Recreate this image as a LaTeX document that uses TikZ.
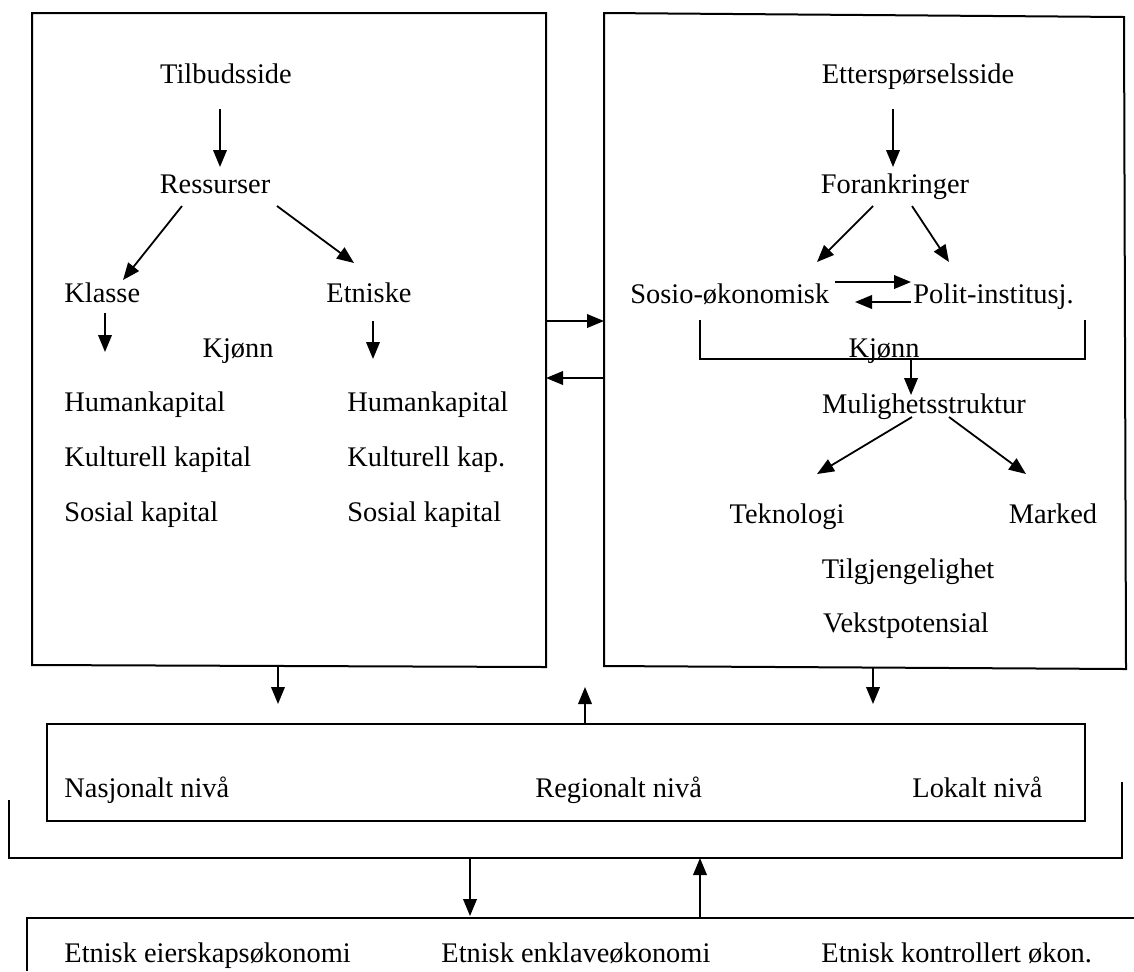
\documentclass[tikz,border=0pt]{standalone}
\usepackage{fontspec}
\setmainfont{Liberation Serif}
\usetikzlibrary{arrows.meta}
\begin{document}
\begin{tikzpicture}[x=0.5pt,y=-0.5pt,
 lbl/.style={anchor=base west,inner sep=0pt,font=\fontsize{14.2}{16}\selectfont},
 clbl/.style={anchor=base,inner sep=0pt,font=\fontsize{14.2}{16}\selectfont},
 frame/.style={line width=1pt},
 arr/.style={line width=0.9pt,-{Triangle[length=8.5pt,width=6.8pt]}},
]
\useasboundingbox (0,0) rectangle (1134,971);
% frames
\coordinate (L1) at (32,13); \coordinate (L2) at (546,13);
\coordinate (L3) at (546,667); \coordinate (L4) at (32,665);
\draw[frame] (L1) -- (L2) -- (L3) -- (L4) -- cycle;
\coordinate (R1) at (604,13); \coordinate (R2) at (1124,17);
\coordinate (R3) at (1126,669); \coordinate (R4) at (604,666);
\draw[frame] (R1) -- (R2) -- (R3) -- (R4) -- cycle;
\coordinate (M1) at (47,724); \coordinate (M2) at (1085,724);
\coordinate (M3) at (1085,821); \coordinate (M4) at (47,821);
\draw[frame] (M1) -- (M2) -- (M3) -- (M4) -- cycle;
\coordinate (B1) at (9,800); \coordinate (B2) at (9,858);
\coordinate (B3) at (1122,858); \coordinate (B4) at (1122,782);
\draw[frame] (B1) -- (B2) -- (B3) -- (B4);
\coordinate (E1) at (27,971); \coordinate (E2) at (27,918); \coordinate (E3) at (1134,918);
\draw[frame] (E1) -- (E2) -- (E3);
% left box texts
\node[clbl] (tilbud) at (226,83) {Tilbudsside};
\node[clbl] (ress) at (215,193) {Ressurser};
\node[lbl] (klasse) at (64,302) {Klasse};
\node[lbl] (etn) at (326,302) {Etniske};
\node[clbl] (kjL) at (238,357) {Kjønn};
\node[lbl] (hk1) at (64,411) {Humankapital};
\node[lbl] (kk1) at (64,466) {Kulturell kapital};
\node[lbl] (sk1) at (64,521) {Sosial kapital};
\node[lbl] (hk2) at (347,411) {Humankapital};
\node[lbl] (kk2) at (347,466) {Kulturell kap.};
\node[lbl] (sk2) at (347,521) {Sosial kapital};
% right box texts
\node[clbl] (ett) at (918,83) {Etterspørselsside};
\node[clbl] (for) at (895,193) {Forankringer};
\node[lbl] (sos) at (630,303) {Sosio-økonomisk};
\node[lbl] (pol) at (913,303) {Polit-institusj.};
\node[clbl] (kjR) at (884,357) {Kjønn};
\node[clbl] (mul) at (924,413) {Mulighetsstruktur};
\node[clbl] (tek) at (787,523) {Teknologi};
\node[clbl] (mar) at (1053,523) {Marked};
\node[clbl] (til) at (908,578) {Tilgjengelighet};
\node[clbl] (vek) at (906,632) {Vekstpotensial};
% middle and bottom texts
\node[lbl] (nas) at (64,797) {Nasjonalt nivå};
\node[lbl] (reg) at (535,797) {Regionalt nivå};
\node[lbl] (lok) at (912,797) {Lokalt nivå};
\node[lbl] (eie) at (64,962) {Etnisk eierskapsøkonomi};
\node[lbl] (enk) at (441,962) {Etnisk enklaveøkonomi};
\node[lbl] (kon) at (821,962) {Etnisk kontrollert økon.};
% bracket in right box
\coordinate (K1) at (700,320); \coordinate (K2) at (700,359);
\coordinate (K3) at (1085,359); \coordinate (K4) at (1085,320);
\draw[frame] (K1) -- (K2) -- (K3) -- (K4);
% arrows left box
\coordinate (a1s) at (220,109); \coordinate (a1e) at (220,167);
\draw[arr] (a1s) -- (a1e);
\coordinate (a2s) at (182,206); \coordinate (a2e) at (123,280);
\draw[arr] (a2s) -- (a2e);
\coordinate (a3s) at (277,206); \coordinate (a3e) at (354,263);
\draw[arr] (a3s) -- (a3e);
\coordinate (a4s) at (105,313); \coordinate (a4e) at (105,352);
\draw[arr] (a4s) -- (a4e);
\coordinate (a5s) at (373,321); \coordinate (a5e) at (373,359);
\draw[arr] (a5s) -- (a5e);
% arrows right box
\coordinate (b1s) at (893,109); \coordinate (b1e) at (893,167);
\draw[arr] (b1s) -- (b1e);
\coordinate (b2s) at (873,206); \coordinate (b2e) at (817,262);
\draw[arr] (b2s) -- (b2e);
\coordinate (b3s) at (912,206); \coordinate (b3e) at (949,262);
\draw[arr] (b3s) -- (b3e);
\coordinate (b4s) at (835,282); \coordinate (b4e) at (911,282);
\draw[arr] (b4s) -- (b4e);
\coordinate (b5s) at (911,302); \coordinate (b5e) at (855,302);
\draw[arr] (b5s) -- (b5e);
\coordinate (b6s) at (911,359); \coordinate (b6e) at (911,395);
\draw[arr] (b6s) -- (b6e);
\coordinate (b7s) at (912,417); \coordinate (b7e) at (817,474);
\draw[arr] (b7s) -- (b7e);
\coordinate (b8s) at (949,417); \coordinate (b8e) at (1026,474);
\draw[arr] (b8s) -- (b8e);
% arrows between boxes
\coordinate (c1s) at (546,321); \coordinate (c1e) at (604,321);
\draw[arr] (c1s) -- (c1e);
\coordinate (c2s) at (604,378); \coordinate (c2e) at (546,378);
\draw[arr] (c2s) -- (c2e);
\coordinate (d1s) at (278,667); \coordinate (d1e) at (278,704);
\draw[arr] (d1s) -- (d1e);
\coordinate (d2s) at (585,724); \coordinate (d2e) at (585,687);
\draw[arr] (d2s) -- (d2e);
\coordinate (d3s) at (873,668); \coordinate (d3e) at (873,704);
\draw[arr] (d3s) -- (d3e);
\coordinate (d4s) at (470,858); \coordinate (d4e) at (470,916);
\draw[arr] (d4s) -- (d4e);
\coordinate (d5s) at (700,918); \coordinate (d5e) at (700,858);
\draw[arr] (d5s) -- (d5e);
\end{tikzpicture}
\end{document}
